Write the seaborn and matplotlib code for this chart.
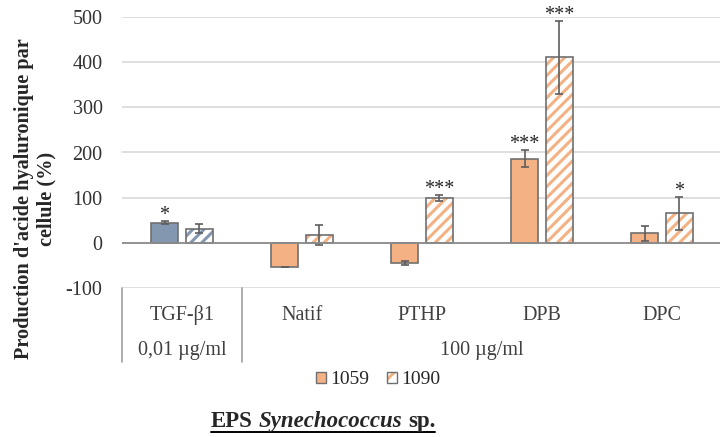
import pandas as pd
import numpy as np
import seaborn as sns
import matplotlib.pyplot as plt
from matplotlib.patches import Patch, Rectangle
from matplotlib.lines import Line2D

# donnees
categories = ['TGF-β1', 'Natif', 'PTHP', 'DPB', 'DPC']
series = ['1059', '1090']
valeurs_1059 = [45, -54, -44, 186, 21]
erreurs_1059 = [3, 0, 4, 19, 16]
valeurs_1090 = [31, 18, 99, 411, 65]
erreurs_1090 = [10, 22, 7, 81, 36]
sig_1059 = ['*', '', '', '***', '']
sig_1090 = ['', '', '***', '***', '*']
groupes = [('0,01 µg/ml', 0, 0), ('100 µg/ml', 1, 4)]

orange = '#f4b183'
bleu = '#8497b0'
gris = '#6f6f6f'

sns.set_style('white')
plt.rcParams['font.family'] = ['Liberation Serif', 'DejaVu Serif']
plt.rcParams['hatch.linewidth'] = 2.2
plt.rcParams['axes.unicode_minus'] = False

df = pd.DataFrame({
    'categorie': categories * 2,
    'serie': [series[0]] * 5 + [series[1]] * 5,
    'valeur': valeurs_1059 + valeurs_1090,
})

fig = plt.figure(figsize=(7.2, 4.37), dpi=100)
ax = fig.add_axes([122 / 720, 1 - 288 / 437, 600 / 720, 271 / 437])

sns.barplot(data=df, x='categorie', y='valeur', hue='serie', palette=[orange, orange],
            saturation=1, width=0.583, gap=0.229, errorbar=None, edgecolor=gris,
            linewidth=1.2, legend=False, ax=ax, zorder=3)

cont_a, cont_b = ax.containers[0], ax.containers[1]
cont_a.patches[0].set_facecolor(bleu)
for i, p in enumerate(cont_b.patches):
    couleur = bleu if i == 0 else orange
    p.set_facecolor('white')
    p.set_edgecolor(couleur)
    p.set_hatch('///')
    p.set_linewidth(0)
    ax.add_patch(Rectangle(p.get_xy(), p.get_width(), p.get_height(), fill=False,
                           edgecolor=gris, linewidth=1.2, zorder=4))

for cont, vals, errs, sig in [(cont_a, valeurs_1059, erreurs_1059, sig_1059),
                              (cont_b, valeurs_1090, erreurs_1090, sig_1090)]:
    xs = [p.get_x() + p.get_width() / 2 for p in cont.patches]
    ax.errorbar(xs, vals, yerr=errs, fmt='none', ecolor='#5e5e5e', elinewidth=1.2,
                capsize=3, capthick=1.2, zorder=5)
    for x, v, e, s in zip(xs, vals, errs, sig):
        if s:
            ax.annotate(s, (x, v + e), xytext=(0, -3), textcoords='offset points',
                        ha='center', va='bottom', fontsize=14.5)

ax.set_ylim(-100, 500)
ax.set_xlim(-0.5, 4.5)
ax.set_yticks([-100, 0, 100, 200, 300, 400, 500])
ax.yaxis.grid(True, color='#d9d9d9', linewidth=1.2, zorder=0)
ax.axhline(0, color='#8c8c8c', linewidth=1.3, zorder=6)
sns.despine(ax=ax, left=True, bottom=True)
ax.tick_params(axis='y', length=0, pad=14, labelsize=14.5, labelcolor='#333333')
ax.set_xticks([])
ax.set_xlabel('')
ax.set_ylabel("Production d'acide hyaluronique par\ncellule (%)", fontsize=14.6,
              fontweight='bold', linespacing=1.1)
ax.yaxis.set_label_coords(-0.11, 0.33)

# etiquettes a deux niveaux
tr = ax.get_xaxis_transform()
for i, c in enumerate(categories):
    ax.text(i, -0.1, c, transform=tr, ha='center', va='center', fontsize=14.5, color='#404040')
for nom, a, b in groupes:
    ax.text((a + b) / 2, -0.229, nom, transform=tr, ha='center', va='center',
            fontsize=14.5, color='#404040')
for xb in [-0.5, 0.5]:
    ax.plot([xb, xb], [0, -0.274], transform=tr, color='#a0a0a0', lw=1.2, clip_on=False)

# legende
h1 = Patch(facecolor=orange, edgecolor=gris, linewidth=1)
h2 = (Patch(facecolor='white', edgecolor=orange, hatch='//', linewidth=0),
      Patch(facecolor='none', edgecolor=gris, linewidth=1))
fig.legend([h1, h2], series, loc='center', bbox_to_anchor=(378 / 720, 1 - 380 / 437),
           ncol=2, frameon=False, fontsize=14, handlelength=0.55, handleheight=0.55,
           handletextpad=0.2, columnspacing=0.9, borderpad=0)

# titre souligne
fig.canvas.draw()
r = fig.canvas.get_renderer()
morceaux = [('EPS', 'normal'), ('Synechococcus', 'italic'), ('sp.', 'normal')]
taille = 16.5
ty = 1 - 427 / 437
tmp = fig.text(0, 0, 'a a', fontsize=taille, fontweight='bold')
tmp2 = fig.text(0, 0, 'aa', fontsize=taille, fontweight='bold')
esp = tmp.get_window_extent(r).width - tmp2.get_window_extent(r).width
tmp.remove()
tmp2.remove()
textes = [fig.text(0, ty, m, fontsize=taille, fontweight='bold', style=st, va='baseline')
          for m, st in morceaux]
largeurs = [t.get_window_extent(r).width for t in textes]
total = sum(largeurs) + esp * (len(textes) - 1)
x0 = 323 - total / 2
x = x0
for t, w in zip(textes, largeurs):
    t.set_x(x / 720)
    x += w + esp
ligne_y = 1 - 432 / 437
fig.add_artist(Line2D([x0 / 720, (x0 + total) / 720], [ligne_y, ligne_y],
                      color='black', lw=1.4, transform=fig.transFigure))

fig.savefig('out.png', dpi=100)
